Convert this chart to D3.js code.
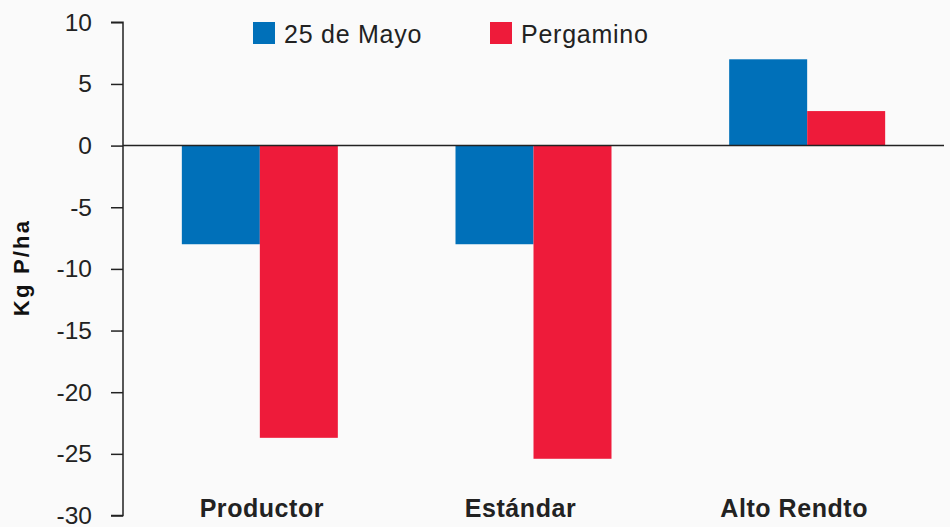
<!DOCTYPE html>
<html><head><meta charset="utf-8">
<script src="https://cdn.jsdelivr.net/npm/d3@7"></script>
<style>
html,body{margin:0;padding:0;background:#fafafa;}
svg{display:block;font-family:"Liberation Sans",Arial,Helvetica,sans-serif;}
</style></head>
<body><svg id="c" width="950" height="527"></svg>
<script>
const categories = ["Productor", "Estándar", "Alto Rendto"];
const seriesNames = ["25 de Mayo", "Pergamino"];
const mayo = [-8, -8, 7];
const pergamino = [-23.7, -25.4, 2.8];
const yTicks = [10, 5, 0, -5, -10, -15, -20, -25, -30];
const colors = ["#0070b9", "#ee1b3a"];

const seriesValues = [mayo, pergamino];
const svg = d3.select("#c");
const x0 = 123, x1 = 944;
const y = d3.scaleLinear().domain([-30, 10]).range([515.5, 22.3]);
const xb = d3.scaleBand().domain(categories).range([x0, x1]).paddingInner(0.43).paddingOuter(0.215);
const xs = d3.scaleBand().domain(seriesNames).range([0, xb.bandwidth()]);

// bars
categories.forEach((c, i) => {
  seriesNames.forEach((s, j) => {
    const v = seriesValues[j][i];
    svg.append("rect")
      .attr("x", xb(c) + xs(s))
      .attr("width", xs.bandwidth())
      .attr("y", y(Math.max(0, v)))
      .attr("height", Math.abs(y(v) - y(0)))
      .attr("fill", colors[j]);
  });
});

// y axis
const ax = svg.append("g").attr("transform", `translate(${x0},0)`)
  .call(d3.axisLeft(y).tickValues(yTicks).tickSize(12).tickPadding(19).tickFormat(d => String(d)));
ax.select(".domain").attr("stroke", "#222").attr("stroke-width", 1.5).attr("d", `M-12,${y(10)}H0V${y(-30)}H-12`);
ax.selectAll(".tick line").attr("stroke", "#222").attr("stroke-width", 1.5);
ax.selectAll(".tick text").attr("fill", "#222").style("font-size", "24.5px").style("font-family", "'Liberation Sans',Arial,sans-serif");

// zero line
svg.append("line").attr("x1", x0).attr("x2", x1).attr("y1", y(0)).attr("y2", y(0))
  .attr("stroke", "#222").attr("stroke-width", 1.5);

// category labels (slight layout shifts as in the original)
const labelShift = [2, -13, -13];
categories.forEach((c, i) => {
  svg.append("text").attr("x", xb(c) + xb.bandwidth() / 2 + labelShift[i]).attr("y", 516.5)
    .attr("text-anchor", "middle").attr("fill", "#222")
    .style("font-size", "25px").style("font-weight", "bold").style("letter-spacing", "0.55px").text(c);
});

// y title
svg.append("text").attr("transform", "translate(29,267.5) rotate(-90)")
  .attr("text-anchor", "middle").attr("fill", "#111")
  .style("font-size", "22px").style("font-weight", "bold").style("letter-spacing", "2.2px").text("Kg P/ha");

// legend
const legX = [253, 490];
seriesNames.forEach((s, j) => {
  svg.append("rect").attr("x", legX[j]).attr("y", 22).attr("width", 22).attr("height", 22).attr("fill", colors[j]);
  svg.append("text").attr("x", legX[j] + 31).attr("y", 43.3).attr("fill", "#222")
    .style("font-size", "25px").style("letter-spacing", "0.75px").text(s);
});
</script></body></html>
